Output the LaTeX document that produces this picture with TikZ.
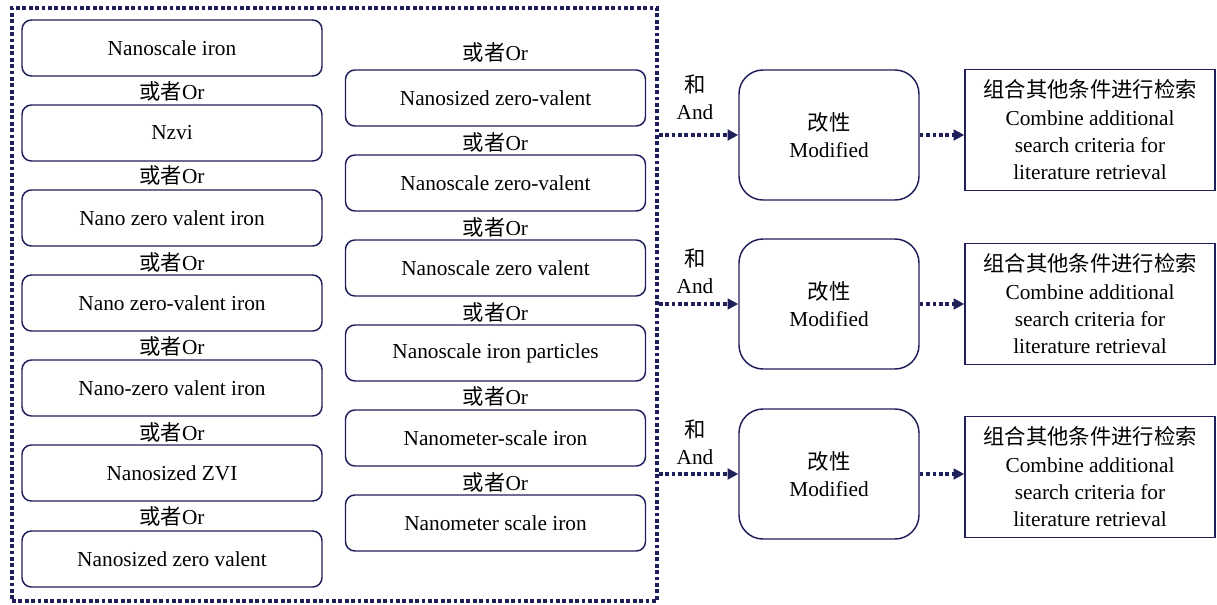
\documentclass[tikz,border=0pt]{standalone}
\usepackage{fontspec}
\setmainfont{Liberation Serif}
\newfontfamily\cjk{Noto Sans CJK SC}
\usetikzlibrary{arrows.meta}
\usetikzlibrary{positioning}
\definecolor{navy}{HTML}{1F1F5C}
\newcommand{\zh}[1]{{\cjk #1}}

\begin{document}
\begin{tikzpicture}
		[x=0.75pt,y=-0.75pt,every node/.style={font=\fontsize{16}{20.5}\selectfont,text=black},
		term/.style={draw=navy,line width=1.1pt,rounded corners=7pt,minimum width=225pt,minimum height=42pt},
		modbox/.style={draw=navy,line width=1.1pt,rounded corners=18pt,minimum width=135pt,minimum height=97.5pt,align=center},
		resbox/.style={draw=navy,line width=1.1pt,minimum width=187.5pt,minimum height=91pt,align=center},
		flow/.style={draw=navy,line width=2.8pt,dash pattern=on 2.8pt off 2pt,-{Triangle[length=8pt,width=8pt]}}]
		\useasboundingbox (0,0) rectangle (1217,604);
		
		% dotted frame
		\node (frame) at (334.5,304.5) [draw=navy,line width=2.8pt,dash pattern=on 2.8pt off 2pt,
			inner sep=0pt,minimum width=483.75pt,minimum height=444.75pt] {};
		
		% left column
		\foreach \name/\y/\txt in
		{l1/48/Nanoscale iron, l2/133/Nzvi, l3/218/Nano zero valent iron,
		 l4/303/Nano zero-valent iron, l5/388/Nano-zero valent iron,
		 l6/473/Nanosized ZVI, l7/559/Nanosized zero valent}
		\node[term] (\name) at (172,\y) {\txt};
		\foreach \y [count=\i] in {91,175,262,346,432,516}
		\node (orl\i) at (172,\y) {\zh{或者}Or};
		
		% right column
		\foreach \name/\y/\txt in
		{r1/98/Nanosized zero-valent, r2/183/Nanoscale zero-valent,
		 r3/268/Nanoscale zero valent, r4/353/Nanoscale iron particles,
		 r5/438/Nanometer-scale iron, r6/523/Nanometer scale iron}
		\node[term] (\name) at (495.5,\y) {\txt};
		\foreach \y [count=\i] in {52,142,227,312,396,482}
		\node (orr\i) at (495.5,\y) {\zh{或者}Or};
		
		% modified and result boxes
		\foreach \i/\ym/\yr in {1/135/130, 2/304/304, 3/474/477}
		{
		\node[modbox] (mod\i) at (829,\ym) {\zh{改性}\\Modified};
		\node[resbox] (res\i) at (1090,\yr) {\zh{组合其他条件进行检索}\\Combine additional\\search criteria for\\literature retrieval};
		}
		\node (and1) at (695,97) [align=center] {\zh{和}\\And};
		\node (and2) at (695,271) [align=center] {\zh{和}\\And};
		\node (and3) at (695,442) [align=center] {\zh{和}\\And};
		
		\foreach \i in {1,2,3}
		{
		\draw[flow] (frame.east |- mod\i.west) -- (mod\i.west);
		\draw[flow] (mod\i.east) -- (res\i.west |- mod\i.east);
		}
\end{tikzpicture}
\end{document}
